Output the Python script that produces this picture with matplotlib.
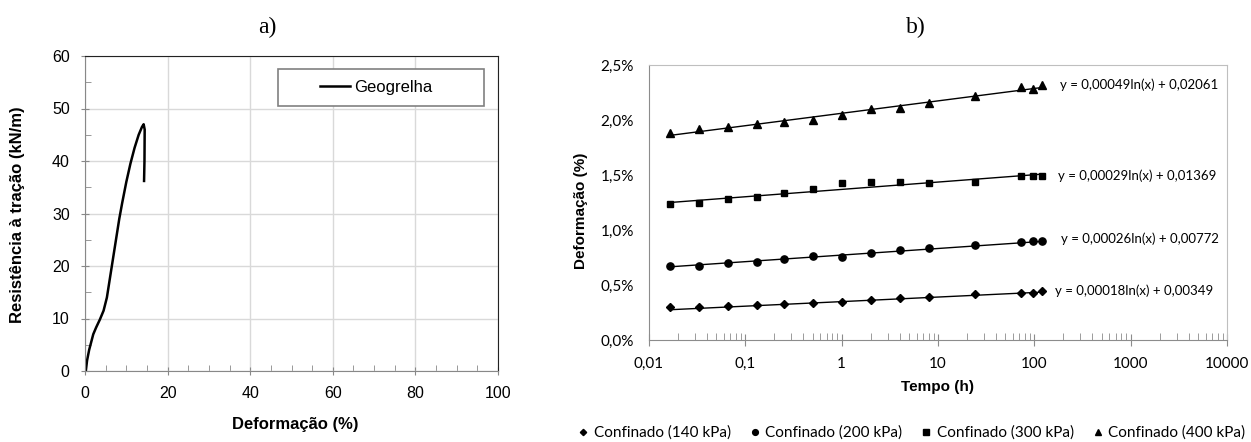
import numpy as np
import matplotlib
matplotlib.use("Agg")
import matplotlib.pyplot as plt
from matplotlib.patches import Rectangle
from matplotlib.lines import Line2D
from matplotlib.ticker import MultipleLocator, LogLocator, FuncFormatter, NullFormatter

# a) tensile test of the geogrid
deformacao = [0.2, 0.5, 1.0, 1.5, 2.0, 2.7, 3.6, 4.5, 5.3, 6.0, 6.7, 7.5, 8.3,
              9.0, 10.0, 11.0, 12.0, 13.0, 13.8, 14.2, 14.45, 14.4, 14.3]
resistencia = [0, 2, 4, 5.5, 7, 8.3, 9.8, 11.5, 14, 17.5, 21, 25, 29,
               32, 36, 39.5, 42.5, 45, 46.5, 47, 46, 40, 36.2]

# b) creep tests (time in hours, strain in %)
tempo = [1/60, 2/60, 4/60, 8/60, 0.25, 0.5, 1, 2, 4, 8, 24, 72, 96, 120]
def_140 = [0.300, 0.300, 0.307, 0.316, 0.325, 0.336, 0.345, 0.362, 0.385, 0.394, 0.418, 0.430, 0.430, 0.442]
def_200 = [0.676, 0.676, 0.703, 0.712, 0.736, 0.762, 0.755, 0.788, 0.820, 0.840, 0.864, 0.888, 0.897, 0.897]
def_300 = [1.236, 1.248, 1.280, 1.304, 1.337, 1.372, 1.424, 1.432, 1.432, 1.424, 1.439, 1.491, 1.491, 1.491]
def_400 = [1.879, 1.920, 1.940, 1.962, 1.980, 2.000, 2.050, 2.100, 2.110, 2.150, 2.220, 2.300, 2.280, 2.320]
coef_a = [0.00018, 0.00026, 0.00029, 0.00049]
coef_b = [0.00349, 0.00772, 0.01369, 0.02061]
equacoes = ["y = 0,00018ln(x) + 0,00349", "y = 0,00026ln(x) + 0,00772",
            "y = 0,00029ln(x) + 0,01369", "y = 0,00049ln(x) + 0,02061"]
rotulos = ["Confinado (140 kPa)", "Confinado (200 kPa)",
           "Confinado (300 kPa)", "Confinado (400 kPa)"]
marcadores = ["D", "o", "s", "^"]
tam_marc = [4.0, 5.2, 5.0, 5.2]
eq_pos = [(0.703, 0.178), (0.713, 0.367), (0.708, 0.596), (0.711, 0.927)]
x_ticklabels = ["0,01", "0,1", "1", "10", "100", "1000", "10000"]

W, H = 1251, 442
fig = plt.figure(figsize=(W/100, H/100), dpi=100)

def ax_rect(l, r, t, b):
    return [l/W, (H-b)/H, (r-l)/W, (b-t)/H]

arial = ["Liberation Sans", "DejaVu Sans"]
calibri = ["Lato", "DejaVu Sans"]
serif = ["Liberation Serif", "DejaVu Serif"]

# ---------- a) ----------
ax1 = fig.add_axes(ax_rect(85, 498, 56, 371))
ax1.plot(deformacao, resistencia, color="black", lw=1.8, label="Geogrelha")
ax1.set_xlim(0, 100)
ax1.set_ylim(0, 60)
ax1.xaxis.set_major_locator(MultipleLocator(20))
ax1.xaxis.set_minor_locator(MultipleLocator(5))
ax1.yaxis.set_major_locator(MultipleLocator(10))
ax1.yaxis.set_minor_locator(MultipleLocator(5))
ax1.grid(True, which="major", color="#d9d9d9", lw=1)
ax1.set_axisbelow(True)
for s in ["left", "bottom"]:
    ax1.spines[s].set_color("#888888")
for s in ["top", "right"]:
    ax1.spines[s].set_color("#222222")
ax1.tick_params(which="major", direction="inout", length=6, color="#888888",
                labelsize=11.5, pad=8)
ax1.tick_params(which="minor", direction="in", length=4, color="#888888")
for lab in ax1.get_xticklabels() + ax1.get_yticklabels():
    lab.set_family(arial)
ax1.set_xlabel("Deformação (%)", family=arial, fontsize=12, fontweight="bold")
ax1.set_ylabel("Resistência à tração (kN/m)", family=arial, fontsize=12, fontweight="bold")
ax1.xaxis.set_label_coords(0.508, -0.146)
ax1.yaxis.set_label_coords(-0.145, 0.495)
ax1.add_patch(Rectangle((0.467, 0.841), 0.499, 0.117, transform=ax1.transAxes,
                        facecolor="white", edgecolor="#808080", lw=1.2, zorder=3))
leg1 = ax1.legend(loc="center", bbox_to_anchor=(0.705, 0.8995), frameon=False,
                  handlelength=1.8, handletextpad=0.25, prop={"family": arial, "size": 12})
leg1.set_zorder(4)

# ---------- b) ----------
ax2 = fig.add_axes(ax_rect(649, 1227, 65, 340))
series = [def_140, def_200, def_300, def_400]
t_fit = np.geomspace(tempo[0], tempo[-1], 50)
for vals, a, b, m, ms, eq, pos in zip(series, coef_a, coef_b, marcadores, tam_marc, equacoes, eq_pos):
    ax2.plot(t_fit, a*np.log(t_fit) + b, color="black", lw=1.0, zorder=2)
    ax2.plot(tempo, np.array(vals)/100, linestyle="none", marker=m, ms=ms,
             color="black", zorder=3)
    ax2.text(pos[0], pos[1], eq, transform=ax2.transAxes, va="center", ha="left",
             family=calibri, fontsize=9.5)
ax2.set_xscale("log")
ax2.set_xlim(0.01, 10000)
ax2.set_ylim(0, 0.025)
ax2.set_xticks([10.0**k for k in range(-2, 5)])
ax2.set_xticklabels(x_ticklabels)
ax2.xaxis.set_minor_locator(LogLocator(base=10, subs=np.arange(2, 10), numticks=20))
ax2.xaxis.set_minor_formatter(NullFormatter())
ax2.yaxis.set_major_locator(MultipleLocator(0.005))
ax2.yaxis.set_major_formatter(FuncFormatter(lambda v, p: ("%.1f%%" % (v*100)).replace(".", ",")))
for s in ["left", "bottom"]:
    ax2.spines[s].set_color("#8c8c8c")
for s in ["top", "right"]:
    ax2.spines[s].set_color("#bfbfbf")
ax2.tick_params(axis="x", which="major", direction="inout", length=8, color="#8c8c8c",
                labelsize=11, pad=8)
ax2.tick_params(axis="x", which="minor", direction="in", length=5, color="#8c8c8c")
ax2.tick_params(axis="y", length=0, labelsize=11, pad=11)
for lab in ax2.get_xticklabels() + ax2.get_yticklabels():
    lab.set_family(calibri)
ax2.set_xlabel("Tempo (h)", family=arial, fontsize=11, fontweight="bold")
ax2.set_ylabel("Deformação (%)", family=arial, fontsize=11, fontweight="bold")
ax2.xaxis.set_label_coords(0.5, -0.145)
ax2.yaxis.set_label_coords(-0.1055, 0.469)

handles = [Line2D([], [], linestyle="none", marker=m, ms=ms*0.8, color="black")
           for m, ms in zip(marcadores, tam_marc)]
fig.legend(handles, rotulos, loc="center", bbox_to_anchor=(912/W, (H-433)/H), ncol=4,
           frameon=False, handlelength=0.6, handletextpad=0.4, columnspacing=1.25,
           prop={"family": calibri, "size": 11})

# panel titles
fig.text(267/W, (H-27)/H, "a)", family=serif, fontsize=17, ha="center", va="center")
fig.text(916/W, (H-27)/H, "b)", family=serif, fontsize=17, ha="center", va="center")

fig.savefig("out.png", dpi=100)
